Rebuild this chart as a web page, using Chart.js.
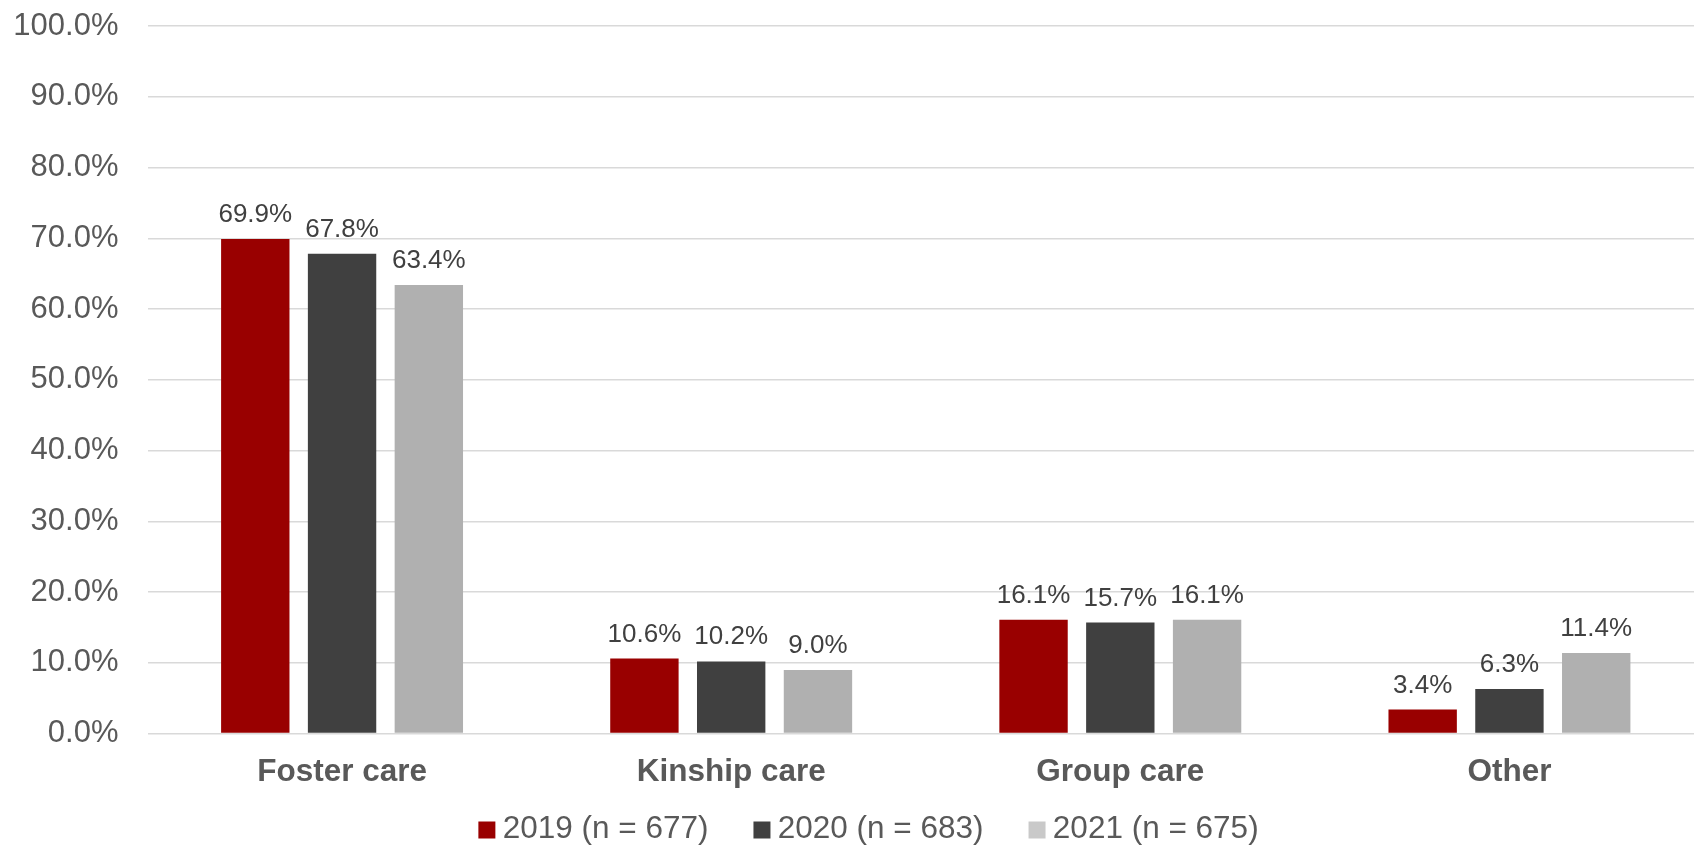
<!DOCTYPE html>
<html>
<head>
<meta charset="utf-8">
<script src="https://cdn.jsdelivr.net/npm/chart.js@4/dist/chart.umd.min.js"></script>
<style>
  html, body { margin: 0; padding: 0; background: #ffffff; overflow: hidden; }
  #wrap { position: relative; width: 1704px; height: 847px; }
  canvas { display: block; }
</style>
</head>
<body>
<div id="wrap"><canvas id="c" width="1704" height="847" style="width:1704px;height:847px"></canvas></div>
<script>
// ---- data ----
const categories = ["Foster care", "Kinship care", "Group care", "Other"];
const seriesLabels = ["2019 (n = 677)", "2020 (n = 683)", "2021 (n = 675)"];
const values2019 = [69.9, 10.6, 16.1, 3.4];
const values2020 = [67.8, 10.2, 15.7, 6.3];
const values2021 = [63.4, 9.0, 16.1, 11.4];
const barColors = ["#990000", "#404040", "#b0b0b0"];
const legendColors = ["#990000", "#404040", "#c9c9c9"];
const yTickValues = [0, 10, 20, 30, 40, 50, 60, 70, 80, 90, 100];

const FONT = "'Liberation Sans', Arial, Helvetica, sans-serif";

const valueLabelPlugin = {
  id: 'valueLabels',
  afterDatasetsDraw(chart) {
    const ctx = chart.ctx;
    ctx.save();
    ctx.font = "26px " + FONT;
    ctx.fillStyle = "#404040";
    ctx.textAlign = "center";
    ctx.textBaseline = "alphabetic";
    chart.data.datasets.forEach((ds, di) => {
      const meta = chart.getDatasetMeta(di);
      meta.data.forEach((bar, i) => {
        ctx.fillText(ds.data[i].toFixed(1) + "%", bar.x, bar.y - 17);
      });
    });
    ctx.restore();
  }
};

const legendPlugin = {
  id: 'customLegend',
  afterDraw(chart) {
    const ctx = chart.ctx;
    ctx.save();
    ctx.font = "31.5px " + FONT;
    const box = 17, gap = 7.3, spacing = 45;
    const widths = chart.data.datasets.map(ds => ctx.measureText(ds.label).width);
    let total = 0;
    widths.forEach((w, i) => { total += box + gap + w + (i < widths.length - 1 ? spacing : 0); });
    let x = chart.width / 2 + 16.5 - total / 2;
    const cy = 830;
    ctx.textBaseline = "middle";
    ctx.textAlign = "left";
    chart.data.datasets.forEach((ds, i) => {
      ctx.fillStyle = legendColors[i];
      ctx.fillRect(x, cy - box / 2, box, box);
      ctx.fillStyle = "#595959";
      ctx.fillText(ds.label, x + box + gap, cy - 0.5);
      x += box + gap + widths[i] + spacing;
    });
    ctx.restore();
  }
};

new Chart(document.getElementById('c'), {
  type: 'bar',
  data: {
    labels: categories,
    datasets: [
      { label: seriesLabels[0], data: values2019, backgroundColor: barColors[0] },
      { label: seriesLabels[1], data: values2020, backgroundColor: barColors[1] },
      { label: seriesLabels[2], data: values2021, backgroundColor: barColors[2] }
    ]
  },
  options: {
    responsive: false,
    animation: false,
    devicePixelRatio: 1,
    categoryPercentage: 0.669,
    barPercentage: 0.788,
    layout: { padding: { left: 13.5, right: 0, top: 26, bottom: 56.2 } },
    plugins: {
      legend: { display: false },
      tooltip: { enabled: false }
    },
    scales: {
      x: {
        grid: { display: false, drawTicks: false },
        border: { display: false },
        ticks: {
          padding: 19.4,
          color: "#595959",
          font: { family: FONT, size: 31.5, weight: 'bold' }
        },
        afterFit(axis) {
          axis.paddingLeft = 0; axis.paddingRight = 0;
          axis.height = 19.4 + 31.5 * 1.2;
        }
      },
      y: {
        min: 0,
        max: 100,
        afterBuildTicks(axis) { axis.ticks = yTickValues.map(v => ({ value: v })); },
        grid: { color: "#d9d9d9", lineWidth: 1.5, drawTicks: false },
        border: { display: false },
        ticks: {
          padding: 29,
          color: "#595959",
          font: { family: FONT, size: 31 },
          callback: v => Number(v).toFixed(1) + "%"
        },
        afterFit(axis) {
          axis.paddingTop = 0; axis.paddingBottom = 0;
          axis.width = 134;
        }
      }
    }
  },
  plugins: [valueLabelPlugin, legendPlugin]
});
</script>
</body>
</html>
